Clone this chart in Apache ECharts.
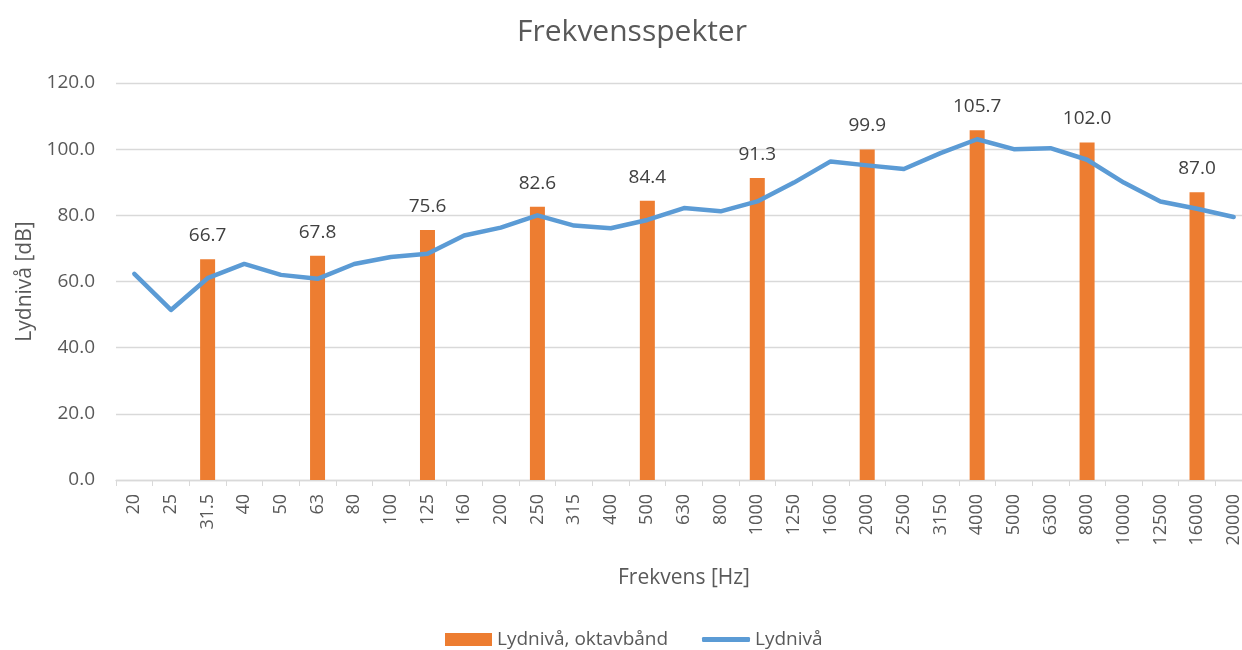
<!DOCTYPE html>
<html lang="no">
<head>
  <meta charset="utf-8"/>
  <title>Frekvensspekter</title>
  <script src="https://cdn.jsdelivr.net/npm/echarts@6/dist/echarts.min.js"></script>
  <style>
    html, body { margin: 0; padding: 0; background: #fff; overflow: hidden; }
  </style>
</head>
<body>
<!-- plottet går litt ut over høyre kant i originalen, derfor bredere enn vinduet -->
<div id="main" style="width: 1253px;height: 650px"></div>
<script type="text/javascript">
  // frekvensbånd (terts) langs x-aksen
  var frekvenser = ['20', '25', '31.5', '40', '50', '63', '80', '100', '125', '160', '200', '250', '315', '400',
    '500', '630', '800', '1000', '1250', '1600', '2000', '2500', '3150', '4000', '5000', '6300', '8000',
    '10000', '12500', '16000', '20000'];

  // oktavbånd - bare på oktavfrekvensene, '-' ellers
  var oktavband = ['-', '-', 66.7, '-', '-', 67.8, '-', '-', 75.6, '-', '-', 82.6, '-', '-',
    84.4, '-', '-', 91.3, '-', '-', 99.9, '-', '-', 105.7, '-', '-', 102.0,
    '-', '-', 87.0, '-'];

  // lydnivå per tertsbånd
  var lydniva = [62.3, 51.4, 61.0, 65.3, 62.0, 60.8, 65.3, 67.4, 68.4, 73.9, 76.3, 80.0, 76.9, 76.1,
    78.6, 82.2, 81.2, 84.2, 89.9, 96.3, 95.1, 94.0, 98.8, 103.0, 100.0, 100.3, 96.8,
    89.9, 84.2, 82.0, 79.5];

  var fontFam = '"Open Sans", "DejaVu Sans", sans-serif';
  var myChart = echarts.init(document.getElementById('main'));

  myChart.setOption({
    animation: false,
    textStyle: { fontFamily: fontFam },
    title: {
      text: 'Frekvensspekter',
      left: 627,
      textAlign: 'center',
      top: 12,
      textStyle: { fontFamily: fontFam, fontSize: 30, fontWeight: 'normal', color: '#595959' }
    },
    // to legender, slik at linja får et tynt ikon
    legend: [
      {
        left: 440,
        top: 625,
        itemWidth: 47,
        itemHeight: 13,
        textStyle: { fontFamily: fontFam, fontSize: 19, color: '#595959' },
        data: [{ name: 'Lydnivå, oktavbånd', icon: 'rect' }]
      },
      {
        left: 697,
        top: 625,
        itemWidth: 48,
        itemHeight: 5,
        textStyle: { fontFamily: fontFam, fontSize: 19, color: '#595959' },
        data: [{ name: 'Lydnivå', icon: 'roundRect' }]
      }
    ],
    grid: {
      left: 116,
      width: 1136,
      top: 83,
      height: 397,
      containLabel: false
    },
    xAxis: {
      type: 'category',
      data: frekvenser,
      name: 'Frekvens [Hz]',
      nameLocation: 'middle',
      nameGap: 88,
      nameTextStyle: { fontFamily: fontFam, fontSize: 21, color: '#595959' },
      axisLine: { lineStyle: { color: '#D9D9D9', width: 1.3 } },
      axisTick: { show: true, length: 6, lineStyle: { color: '#D9D9D9' } },
      axisLabel: {
        rotate: 90,
        margin: 14,
        interval: 0,
        fontFamily: fontFam,
        fontSize: 18,
        color: '#595959'
      }
    },
    yAxis: {
      type: 'value',
      min: 0,
      max: 120,
      interval: 20,
      name: 'Lydnivå [dB]',
      nameLocation: 'middle',
      nameGap: 80,
      nameRotate: 90,
      nameTextStyle: { fontFamily: fontFam, fontSize: 21, color: '#595959' },
      axisLine: { show: false },
      axisTick: { show: false },
      axisLabel: {
        margin: 21,
        fontFamily: fontFam,
        fontSize: 19,
        color: '#595959',
        formatter: function (v) { return v.toFixed(1); }
      },
      splitLine: { lineStyle: { color: '#D9D9D9', width: 1.3 } }
    },
    series: [
      {
        name: 'Lydnivå, oktavbånd',
        type: 'bar',
        data: oktavband,
        barWidth: 15,
        itemStyle: { color: '#ED7D31' },
        label: {
          show: true,
          position: 'top',
          distance: 14,
          fontFamily: fontFam,
          fontSize: 19,
          color: '#404040',
          formatter: function (p) { return Number(p.value).toFixed(1); }
        }
      },
      {
        name: 'Lydnivå',
        type: 'line',
        data: lydniva,
        symbol: 'none',
        lineStyle: { color: '#5B9BD5', width: 4.5, cap: 'round', join: 'round' },
        itemStyle: { color: '#5B9BD5' }
      }
    ]
  });
</script>
</body>
</html>
